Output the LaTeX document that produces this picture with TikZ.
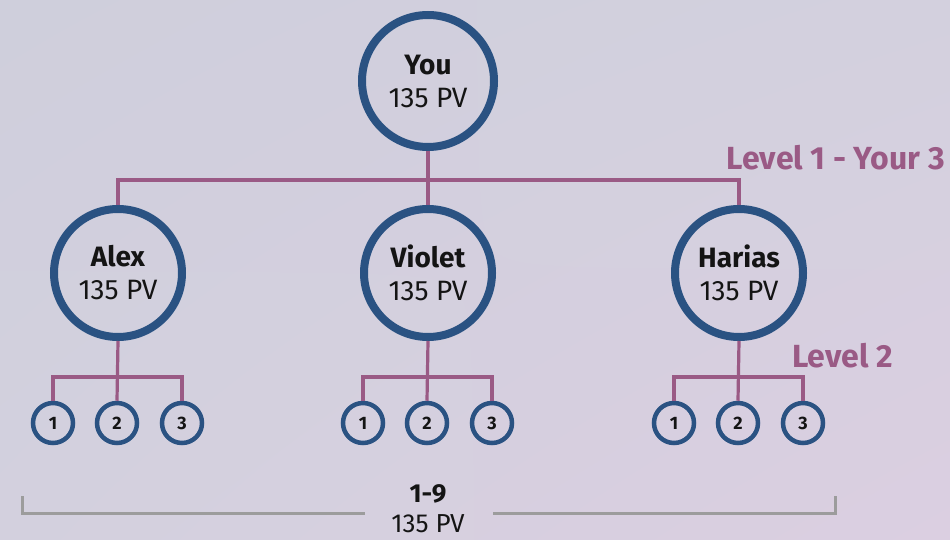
\documentclass[tikz,border=0pt]{standalone}
\usepackage{fontspec}
\usetikzlibrary{shadings}
\setmainfont{Fira Sans}
\definecolor{cblue}{HTML}{2A5282}
\definecolor{cpurple}{HTML}{9A5A85}
\definecolor{cgray}{HTML}{9C9C9C}
\definecolor{bgA}{HTML}{CFCFDC}
\definecolor{bgM}{HTML}{D3D0DE}
\definecolor{bgB}{HTML}{DBCFE1}
\definecolor{ctext}{HTML}{141414}
\tikzset{
  bignode/.style={circle, draw=cblue, line width=8pt, minimum size=#1, inner sep=0pt, align=center, text=ctext, font=\fontsize{28}{33}\selectfont},
  smallnode/.style={circle, draw=cblue, line width=4.5pt, minimum size=40pt, inner sep=0pt, text=ctext, font=\fontsize{18}{20}\selectfont\bfseries},
  link/.style={draw=cpurple, line width=3.2pt},
  bracket/.style={draw=cgray, line width=3pt},
  lvl/.style={text=cpurple, font=\fontsize{32}{34}\selectfont\bfseries, inner sep=0pt}
}
\begin{document}
\begin{tikzpicture}[x=1pt,y=-1pt]
\useasboundingbox (0,0) rectangle (950,540);
\shade[upper left=bgA, upper right=bgM, lower left=bgM, lower right=bgB] (0,0) rectangle (950,540);

\node[bignode=132pt] (you) at (428,81) {{\bfseries You}\\135 PV};
\node[bignode=128pt] (alex) at (118,273) {{\bfseries Alex}\\135 PV};
\node[bignode=128pt] (violet) at (428,273) {{\bfseries Violet}\\135 PV};
\node[bignode=128pt] (harias) at (739,273) {{\bfseries Harias}\\135 PV};

\foreach \p/\x in {a/0,v/310,h/621}{
  \node[smallnode] (\p1) at (53+\x,423) {1};
  \node[smallnode] (\p2) at (117+\x,423) {2};
  \node[smallnode] (\p3) at (182+\x,423) {3};
}

\coordinate (j1) at (428,180);
\draw[link] (you.south) -- (violet.north);
\draw[link] (alex.north) -- (alex.north |- j1) -- (harias.north |- j1) -- (harias.north);

\foreach \p/\n in {a/alex,v/violet,h/harias}{
  \coordinate (\p j) at (0,377);
  \draw[link] (\n.south) -- (\p2.north);
  \draw[link] (\p1.north) -- (\p1.north |- \p j) -- (\p3.north |- \p j) -- (\p3.north);
}

\node[lvl, anchor=base east] (l1) at (945,170) {Level 1 - Your 3};
\node[lvl, anchor=base east] (l2) at (893,367) {Level 2};

\node[align=center, text=ctext, font=\fontsize{26}{30}\selectfont, anchor=base, inner sep=0pt] (tot) at (428,532) {{\bfseries 1-9}\\135 PV};

\coordinate (b1) at (22,496);
\coordinate (b2) at (22,513);
\coordinate (b3) at (365,513);
\coordinate (b4) at (493,513);
\coordinate (b5) at (835,513);
\coordinate (b6) at (835,496);
\draw[bracket] (b1) -- (b2) -- (b3);
\draw[bracket] (b4) -- (b5) -- (b6);
\end{tikzpicture}
\end{document}
